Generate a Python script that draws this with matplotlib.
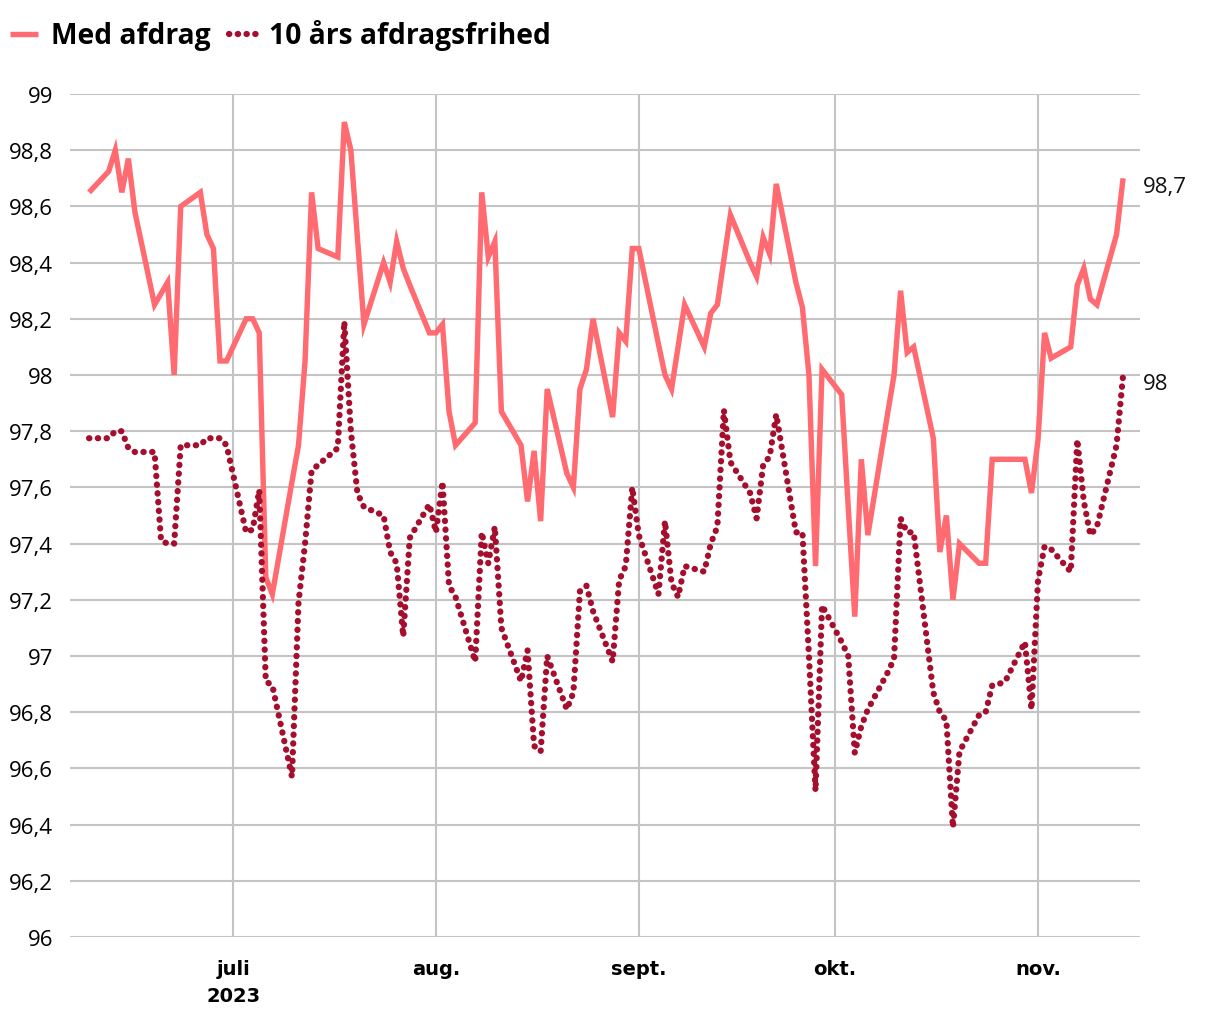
import numpy as np
import pandas as pd
from matplotlib import pyplot as plt
from matplotlib import transforms

# Handelsdage 9. juni - 14. nov. 2023
dates = pd.bdate_range('2023-06-09', '2023-11-14')

# Kurs, med afdrag
med_afdrag = [
    # juni
    98.65, 98.725, 98.80, 98.65, 98.77, 98.58, 98.25, 98.29, 98.33, 98.00,
    98.60, 98.65, 98.50, 98.45, 98.05, 98.05,
    # juli
    98.20, 98.20, 98.15, 97.28, 97.22, 97.62, 97.75, 98.05, 98.65, 98.45,
    98.42, 98.90, 98.80, 98.49, 98.18, 98.40, 98.33, 98.475, 98.38, 98.32,
    98.15,
    # aug.
    98.15, 98.18, 97.87, 97.75, 97.83, 98.65, 98.42, 98.475, 97.87, 97.75,
    97.55, 97.73, 97.48, 97.95, 97.65, 97.60, 97.95, 98.02, 98.20, 97.85,
    98.15, 98.12, 98.45,
    # sept.
    98.45, 98.11, 98.00, 97.95, 98.10, 98.25, 98.10, 98.22, 98.25, 98.41,
    98.57, 98.40, 98.35, 98.49, 98.43, 98.68, 98.33, 98.24, 98.00, 97.32,
    98.02,
    # okt.
    97.93, 97.53, 97.14, 97.70, 97.43, 97.86, 98.00, 98.30, 98.08, 98.10,
    97.775, 97.37, 97.50, 97.20, 97.40, 97.33, 97.33, 97.70, 97.70, 97.70,
    97.70, 97.58,
    # nov.
    97.77, 98.15, 98.06, 98.10, 98.32, 98.38, 98.27, 98.25, 98.50, 98.70,
]

# Kurs, 10 års afdragsfrihed
afdragsfri = [
    # juni
    97.775, 97.775, 97.80, 97.80, 97.74, 97.726, 97.726, 97.41, 97.40, 97.40,
    97.75, 97.75, 97.775, 97.775, 97.775, 97.75,
    # juli
    97.44, 97.45, 97.59, 96.91, 96.895, 96.57, 97.19, 97.40, 97.66, 97.68,
    97.74, 98.19, 97.80, 97.58, 97.53, 97.50, 97.37, 97.33, 97.07, 97.42,
    97.54,
    # aug.
    97.44, 97.62, 97.25, 97.21, 96.98, 97.44, 97.33, 97.46, 97.10, 96.91,
    97.02, 96.68, 96.66, 97.00, 96.81, 96.87, 97.23, 97.25, 97.16, 96.98,
    97.27, 97.32, 97.60,
    # sept.
    97.43, 97.22, 97.48, 97.26, 97.21, 97.32, 97.30, 97.40, 97.46, 97.875,
    97.69, 97.58, 97.49, 97.68, 97.71, 97.86, 97.44, 97.44, 97.00, 96.52,
    97.18,
    # okt.
    97.05, 97.00, 96.655, 96.75, 96.81, 96.94, 96.99, 97.49, 97.44, 97.44,
    96.87, 96.80, 96.77, 96.39, 96.66, 96.79, 96.80, 96.895, 96.90, 96.91,
    97.05, 96.81,
    # nov.
    97.27, 97.39, 97.38, 97.30, 97.77, 97.55, 97.43, 97.46, 97.75, 98.00,
]

series_names = ['Med afdrag', '10 års afdragsfrihed']
end_labels = ['98,7', '98']
month_ticks = ['2023-07-01', '2023-08-01', '2023-09-01', '2023-10-01', '2023-11-01']
month_labels = ['juli\n2023', 'aug.', 'sept.', 'okt.', 'nov.']
y_ticks = np.round(np.arange(96, 99.01, 0.2), 1)

SOLID = '#ff6b70'
DOTTED = '#a50f2d'
GRID = '#c4c4c4'

plt.rcParams['font.family'] = ['Open Sans', 'DejaVu Sans']

fig = plt.figure(figsize=(12.2, 10.2), dpi=100)
ax = fig.add_axes([70 / 1220, 1 - 938 / 1020, 1070 / 1220, 843 / 1020])

l1, = ax.plot(dates, med_afdrag, color=SOLID, lw=3.9,
              solid_joinstyle='miter', solid_capstyle='butt',
              label=series_names[0])
l2, = ax.plot(dates, afdragsfri, color=DOTTED, lw=4.5,
              linestyle=(0, (0.05, 1.35)), dash_capstyle='round',
              label=series_names[1])

ax.set_ylim(96, 99)
ax.set_xlim(pd.Timestamp('2023-06-06 02:00'), pd.Timestamp('2023-11-16 14:00'))

ax.set_yticks(y_ticks)
ax.set_yticklabels([str(int(v)) if v == int(v) else f'{v:.1f}'.replace('.', ',')
                    for v in y_ticks])
ax.set_xticks(pd.to_datetime(month_ticks))
ax.set_xticklabels(month_labels, family=['Liberation Sans Narrow', 'DejaVu Sans'],
                   fontsize=14, fontweight='bold', linespacing=1.5)

ax.tick_params(axis='y', length=0, pad=12, labelsize=16)
ax.tick_params(axis='x', length=0, pad=16)
ax.grid(True, color=GRID, lw=1.5)
ax.set_axisbelow(True)
for s in ax.spines.values():
    s.set_visible(False)

# Slutværdier til højre for plottet
trans = transforms.blended_transform_factory(ax.transAxes, ax.transData)
for vals, txt in [(med_afdrag, end_labels[0]), (afdragsfri, end_labels[1])]:
    ax.text(1.003, vals[-1] - 0.03, txt, transform=trans, ha='left',
            va='center', fontsize=16, color='#111111')

fig.legend(handles=[l1, l2], loc='upper left', bbox_to_anchor=(0.008, 0.980),
           ncol=2, frameon=False, handlelength=1.0, borderpad=0,
           borderaxespad=0, handletextpad=0.45, columnspacing=0.65,
           prop={'weight': 'bold', 'size': 20.3})

fig.savefig('out.png', dpi=100, facecolor='white')
